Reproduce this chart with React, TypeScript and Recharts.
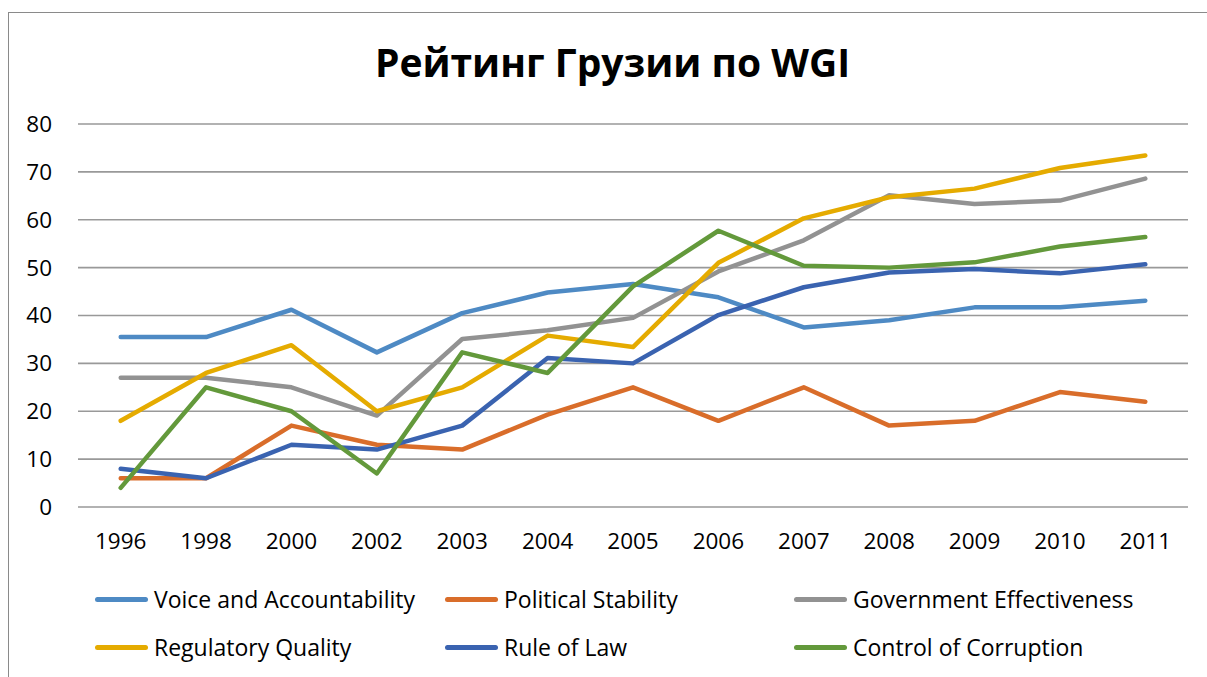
import React from 'react';
import { LineChart, Line, XAxis, YAxis, CartesianGrid } from 'recharts';

const years = ['1996', '1998', '2000', '2002', '2003', '2004', '2005', '2006', '2007', '2008', '2009', '2010', '2011'];

const voice = [35.5, 35.5, 41.2, 32.3, 40.5, 44.8, 46.6, 43.8, 37.5, 39, 41.7, 41.7, 43.1];
const stability = [6, 6, 17, 13, 12, 19.3, 25, 18, 25, 17, 18, 24, 22];
const effectiveness = [27, 27, 25, 19.1, 35.1, 36.9, 39.5, 49.2, 55.7, 65.1, 63.3, 64, 68.6];
const regulatory = [18, 28, 33.8, 20, 25, 35.8, 33.4, 51, 60.3, 64.7, 66.5, 70.8, 73.4];
const ruleOfLaw = [8, 6, 13, 12, 17, 31.1, 30, 40.1, 45.9, 49, 49.7, 48.8, 50.7];
const corruption = [4, 25, 20, 7, 32.3, 28, 46.1, 57.7, 50.4, 50, 51.1, 54.4, 56.4];

const yTicks = [0, 10, 20, 30, 40, 50, 60, 70, 80];

const series = [
  { key: 'voice', name: 'Voice and Accountability', color: '#4e8ac4', values: voice },
  { key: 'stability', name: 'Political Stability', color: '#d96d2a', values: stability },
  { key: 'effectiveness', name: 'Government Effectiveness', color: '#929292', values: effectiveness },
  { key: 'regulatory', name: 'Regulatory Quality', color: '#e5ab00', values: regulatory },
  { key: 'ruleOfLaw', name: 'Rule of Law', color: '#3a63b0', values: ruleOfLaw },
  { key: 'corruption', name: 'Control of Corruption', color: '#63993b', values: corruption },
];

const data = years.map((year, i) => {
  const row: Record<string, string | number> = { year };
  series.forEach(s => { row[s.key] = s.values[i]; });
  return row;
});

const font = '"Open Sans", "Noto Sans", sans-serif';

// legend slots, 3 per row like the Excel one
const legendCols = [95, 445, 794];
const legendRows = [599, 647];

const App = () => {
  return (
    <div style={{ position: 'fixed', left: 0, top: 0, width: 1207, height: 677, background: '#fff', fontFamily: font, overflow: 'hidden' }}>
      <div style={{ position: 'absolute', left: 8, top: 12, width: 1300, height: 800, border: '1.5px solid #8a8a8a' }} />
      <div style={{ position: 'absolute', left: 0, width: 1225, top: 36, textAlign: 'center', fontSize: 39, fontWeight: 700, lineHeight: '52px', color: '#000' }}>
        Рейтинг Грузии по WGI
      </div>
      <div style={{ position: 'absolute', left: 0, top: 0 }}>
        <LineChart width={1207} height={677} data={data} margin={{ top: 124, right: 19, left: 18, bottom: 140 }}>
          <CartesianGrid vertical={false} stroke="#999" strokeWidth={1.6} />
          <XAxis
            dataKey="year"
            axisLine={false}
            tickLine={false}
            tickSize={0}
            tickMargin={26}
            height={30}
            interval={0}
            padding={{ left: 42.7, right: 42.7 }}
            tick={{ fontSize: 22.5, fill: '#000', fontFamily: font }}
          />
          <YAxis
            domain={[0, 80]}
            ticks={yTicks}
            axisLine={false}
            tickLine={false}
            tickSize={0}
            tickMargin={26}
            width={60}
            tick={{ fontSize: 22.5, fill: '#000', fontFamily: font }}
          />
          {series.map(s => (
            <Line
              key={s.key}
              dataKey={s.key}
              name={s.name}
              stroke={s.color}
              strokeWidth={4.5}
              dot={false}
              activeDot={false}
              type="linear"
              strokeLinecap="round"
              strokeLinejoin="round"
              isAnimationActive={false}
            />
          ))}
        </LineChart>
      </div>
      {series.map((s, i) => (
        <div
          key={s.key}
          style={{
            position: 'absolute',
            left: legendCols[i % 3],
            top: legendRows[Math.floor(i / 3)] - 16,
            height: 32,
            display: 'flex',
            alignItems: 'center',
            fontSize: 23,
            color: '#000',
            whiteSpace: 'nowrap',
          }}
        >
          <div style={{ width: 53, height: 5, borderRadius: 3, background: s.color, marginRight: 6 }} />
          <span>{s.name}</span>
        </div>
      ))}
    </div>
  );
};

export default App;
